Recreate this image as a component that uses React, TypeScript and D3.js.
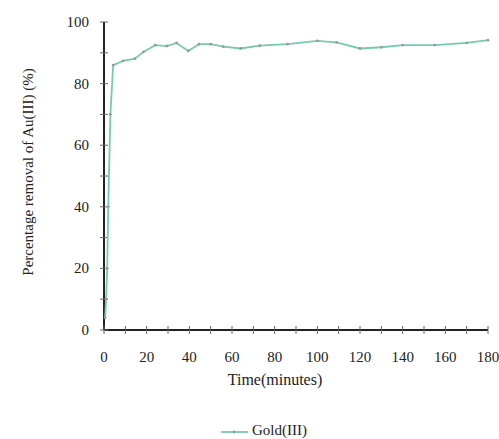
import React from "react";
import * as d3 from "d3";

const times = [0.5, 1, 1.5, 2, 3, 4.3, 9, 14.5, 18.5, 24, 29.5, 34, 39.5, 44.5, 50, 56, 64, 73, 86, 100, 109, 120, 130, 140, 155, 170, 180];
const removal = [4, 10, 20, 40, 70, 86, 87.4, 88.1, 90.3, 92.5, 92.2, 93.2, 90.6, 92.8, 92.8, 92, 91.4, 92.3, 92.8, 93.9, 93.4, 91.4, 91.8, 92.5, 92.5, 93.2, 94.1];
const xTicks = [0, 20, 40, 60, 80, 100, 120, 140, 160, 180];
const yTicks = [0, 20, 40, 60, 80, 100];
const seriesName = "Gold(III)";

export default function App() {
  const W = 499, H = 439;
  const x = d3.scaleLinear().domain([0, 180]).range([104, 488]);
  const y = d3.scaleLinear().domain([0, 100]).range([330, 22]);
  const data = times.map((t, i) => [t, removal[i]] as [number, number]);
  const line = d3.line<[number, number]>().x(d => x(d[0])).y(d => y(d[1]));
  const minorX = d3.range(0, 181, 10);
  const minorY = d3.range(0, 101, 10);
  const font = "'Liberation Serif', 'Times New Roman', serif";
  const teal = "#74ccae";
  return (
    <svg width={W} height={H} style={{ position: "absolute", left: 0, top: 0, background: "#fff" }} fontFamily={font}>
      <rect width={W} height={H} fill="#fff" />
      {/* axes */}
      <line x1={x(0)} x2={x(180)} y1={y(0)} y2={y(0)} stroke="#222" strokeWidth={2} />
      <line x1={x(0)} x2={x(0)} y1={y(0)} y2={y(100)} stroke="#222" strokeWidth={2} />
      {minorX.map(t => (
        <line key={"mx" + t} x1={x(t)} x2={x(t)} y1={y(0) - 4} y2={y(0) + 4} stroke="#666" strokeWidth={1} />
      ))}
      {minorY.map(v => (
        <line key={"my" + v} x1={x(0) - 4} x2={x(0) + 4} y1={y(v)} y2={y(v)} stroke="#666" strokeWidth={1} />
      ))}
      {xTicks.map(t => (
        <text key={"xt" + t} x={x(t)} y={362} fontSize={15} textAnchor="middle" fill="#222">{t}</text>
      ))}
      {yTicks.map(v => (
        <text key={"yt" + v} x={89} y={y(v) + 5} fontSize={15} textAnchor="end" fill="#222">{v}</text>
      ))}
      <text x={275} y={385} fontSize={16} textAnchor="middle" fill="#222">Time(minutes)</text>
      <text transform={`translate(33,172) rotate(-90)`} fontSize={15} textAnchor="middle" fill="#222">Percentage removal of Au(III) (%)</text>
      {/* series */}
      <path d={line(data) || ""} fill="none" stroke={teal} strokeWidth={1.8} />
      {data.map((d, i) => (
        <circle key={"p" + i} cx={x(d[0])} cy={y(d[1])} r={1.4} fill="#999" />
      ))}
      {/* legend */}
      <line x1={221} x2={248} y1={432} y2={432} stroke={teal} strokeWidth={1.8} />
      <circle cx={234} cy={432} r={1.4} fill="#999" />
      <text x={252} y={435} fontSize={15} fill="#222">{seriesName}</text>
    </svg>
  );
}
